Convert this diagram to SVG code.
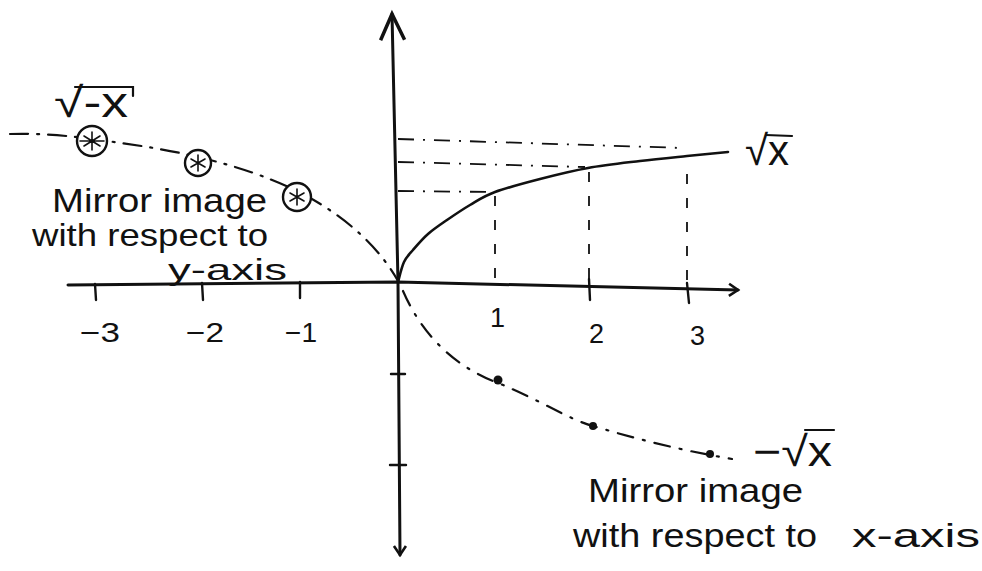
<svg xmlns="http://www.w3.org/2000/svg" width="982" height="571" viewBox="0 0 982 571">
<style>
.ax{stroke:#111;stroke-width:3;fill:none;stroke-linecap:round;stroke-linejoin:round}
.curve{stroke:#111;stroke-width:2.6;fill:none;stroke-linecap:round}
.dash{stroke:#111;stroke-width:2.2;fill:none;stroke-dasharray:18 9 2 9;stroke-linecap:round}
.ddot{stroke:#111;stroke-width:2.2;fill:none;stroke-dasharray:16 10 2 10;stroke-linecap:round}
.guide{stroke:#111;stroke-width:1.8;fill:none;stroke-dasharray:16 9 2 9}
.vguide{stroke:#111;stroke-width:1.8;fill:none;stroke-dasharray:10 14}
.tick{stroke:#111;stroke-width:2.4;stroke-linecap:round;fill:none}
.pt{fill:#fff;stroke:#111;stroke-width:2.4}
.star{stroke:#111;stroke-width:1.6;stroke-linecap:round}
.dot{fill:#111}
.bar{stroke:#111;stroke-width:2.2;fill:none;stroke-linecap:round}
text{font-family:"Liberation Sans",Arial,sans-serif;fill:#111}
.lbl{font-size:34px}
.num{font-size:27px}
.rad{font-size:42px}
</style>
<defs>
<marker id="bigArrow" markerUnits="userSpaceOnUse" orient="auto" refX="0" refY="0" markerWidth="40" markerHeight="40" style="overflow:visible">
<path d="M-26,-12 L0,0 L-26,12" fill="none" stroke="#111" stroke-width="3.5" stroke-linejoin="miter"/>
</marker>
<marker id="smallArrow" markerUnits="userSpaceOnUse" orient="auto" refX="0" refY="0" markerWidth="20" markerHeight="20" style="overflow:visible">
<path d="M-9,-6 L0,0 L-9,6" fill="none" stroke="#111" stroke-width="2.6"/>
</marker>
</defs>

<g id="axes">
<path class="ax" d="M398,282 L392,14" marker-end="url(#bigArrow)"/>
<path class="ax" d="M398,282 L400,555" marker-end="url(#smallArrow)"/>
<path class="ax" d="M68,285 L398,282 L738,290" marker-end="url(#smallArrow)"/>
<path class="tick" d="M95,284 L96,300 M202,283 L203,300 M300,282 L300,298 M589,279 L590,300 M687,283 L689,303 M391,374 L405,374 M390,465 L406,465"/>
</g>

<g id="guides">
<path class="guide" d="M398,139 L683,148"/>
<path class="guide" d="M398,162 L585,167"/>
<path class="guide" d="M398,191 L492,192"/>
<path class="vguide" d="M495,196 L495,282"/>
<path class="vguide" d="M589,172 L589,286"/>
<path class="vguide" d="M687,174 L687,288"/>
</g>

<g id="curves">
<path id="sqrt-x" class="curve" d="M398,282 C399,278.7 401.5,267.3 404,262 C406.5,256.7 409,254.7 413,250 C417,245.3 422.3,239 428,234 C433.7,229 440,224.8 447,220 C454,215.2 462,209.7 470,205 C478,200.3 483.3,196.3 495,192 C506.7,187.7 524.5,183 540,179 C555.5,175 571.3,171 588,168 C604.7,165 623.5,163 640,161 C656.5,159 672.3,157.5 687,156 C701.7,154.5 721.2,152.7 728,152"/>
<path id="sqrt-neg-x" class="dash" d="M10,134 C40,133 70,136 92,139 C130,144 165,149 198,157 C240,167 270,178 297,191 C335,210 375,240 398,281"/>
<path id="neg-sqrt-x" class="ddot" d="M403,291 C420,330 450,365 498,383 C540,400 570,420 593,426 C640,440 680,450 732,459"/>
</g>

<g id="points-left">
<circle class="pt" cx="92" cy="141" r="15"/>
<path class="star" d="M92,132 L92,150 M84,136 L100,146 M84,146 L100,136 M80,141 L104,141"/>
<circle class="pt" cx="198" cy="163" r="13"/>
<path class="star" d="M198,155 L198,171 M191,159 L205,167 M191,167 L205,159"/>
<circle class="pt" cx="297" cy="197" r="14"/>
<path class="star" d="M297,189 L297,205 M290,193 L304,201 M290,201 L304,193"/>
</g>

<g id="points-right">
<circle class="dot" cx="498" cy="380" r="4.5"/>
<circle class="dot" cx="593" cy="426" r="4"/>
<circle class="dot" cx="710" cy="454" r="4"/>
</g>

<g id="tick-labels">
<text class="num" x="80" y="342" textLength="40" lengthAdjust="spacingAndGlyphs">−3</text>
<text class="num" x="186" y="342" textLength="38" lengthAdjust="spacingAndGlyphs">−2</text>
<text class="num" x="285" y="342" textLength="32" lengthAdjust="spacingAndGlyphs">−1</text>
<text class="num" x="490" y="327">1</text>
<text class="num" x="589" y="343">2</text>
<text class="num" x="690" y="345">3</text>
</g>

<g id="label-sqrt-neg-x">
<text class="rad" x="54" y="117" textLength="74" lengthAdjust="spacingAndGlyphs">√-x</text>
<path class="bar" d="M75,87 L133,87 L133,96"/>
</g>
<g id="label-sqrt-x">
<text class="rad" x="745" y="165">√x</text>
<path class="bar" d="M766,135 L792,136"/>
</g>
<g id="label-neg-sqrt-x">
<text class="rad" x="753" y="466" textLength="79" lengthAdjust="spacingAndGlyphs">−√x</text>
<path class="bar" d="M805,430 L834,430"/>
</g>

<g id="note-y-axis">
<text class="lbl" x="52" y="212" textLength="215" lengthAdjust="spacingAndGlyphs">Mirror image</text>
<text class="lbl" x="32" y="246" font-size="32" textLength="236" lengthAdjust="spacingAndGlyphs" style="font-size:32px">with respect to</text>
<text class="lbl" x="168" y="280" textLength="119" lengthAdjust="spacingAndGlyphs" style="font-size:29px">y-axis</text>
</g>
<g id="note-x-axis">
<text class="lbl" x="588" y="502" textLength="215" lengthAdjust="spacingAndGlyphs">Mirror image</text>
<text class="lbl" x="573" y="547" textLength="244" lengthAdjust="spacingAndGlyphs">with respect to</text>
<text class="lbl" x="852" y="547" textLength="128" lengthAdjust="spacingAndGlyphs">x-axis</text>
</g>
</svg>
